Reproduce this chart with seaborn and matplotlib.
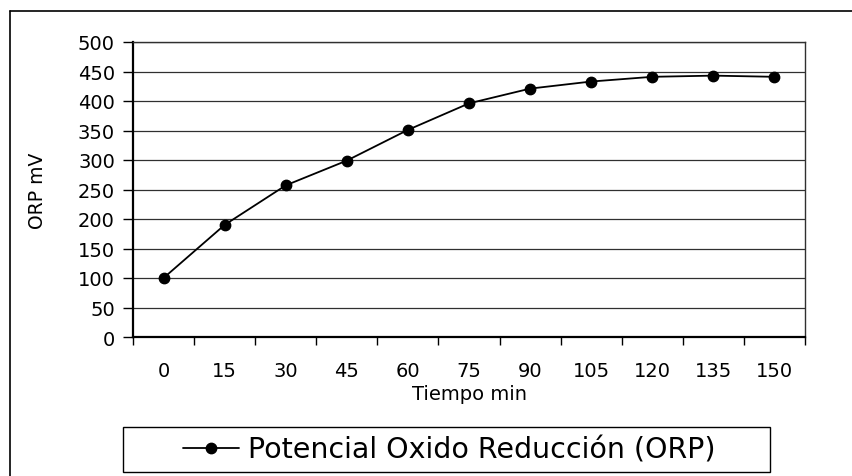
import matplotlib
matplotlib.use("Agg")
import matplotlib.pyplot as plt
from matplotlib.lines import Line2D
from matplotlib.patches import Rectangle
import seaborn as sns
import pandas as pd

tiempo = ["0", "15", "30", "45", "60", "75", "90", "105", "120", "135", "150"]
orp = [100, 190, 257, 299, 351, 396, 421, 433, 441, 443, 441]
serie = "Potencial Oxido Reducción (ORP)"
x_label = "Tiempo min"
y_label = "ORP mV"
y_ticks = [0, 50, 100, 150, 200, 250, 300, 350, 400, 450, 500]

sns.set_theme(style="white")
plt.rcParams["font.family"] = ["DejaVu Sans"]

W, H = 852, 477
fig = plt.figure(figsize=(W / 100, H / 100), dpi=100)
fig.patch.set_facecolor("white")

def fx(px):
    return px / W

def fy(py):
    return 1 - py / H

ax = fig.add_axes([fx(133), fy(338), fx(805) - fx(133), fy(43) - fy(338)])

df = pd.DataFrame({"t": pd.Categorical(tiempo, categories=tiempo), "orp": orp})
sns.pointplot(data=df, x="t", y="orp", order=tiempo, color="black",
              errorbar=None, markers="o", markersize=7.5, linewidth=1.3,
              label=serie, ax=ax)
handles, labels = ax.get_legend_handles_labels()
if ax.get_legend() is not None:
    ax.get_legend().remove()

ax.set_xlim(-0.5, len(tiempo) - 0.5)
ax.set_ylim(0, 500)
ax.set_yticks(y_ticks)
ax.set_yticklabels([str(v) for v in y_ticks], fontsize=14, color="black")
for v in y_ticks:
    ax.axhline(v, color="#303030", lw=0.9, zorder=0)

ax.set_xticks(range(len(tiempo)))
ax.set_xticklabels(tiempo, fontsize=14, color="black")
ax.set_xticks([i - 0.5 for i in range(len(tiempo) + 1)], minor=True)
ax.tick_params(axis="x", which="major", length=0, pad=17)
ax.tick_params(axis="x", which="minor", length=6, width=1, color="black", direction="out", bottom=True)
ax.tick_params(axis="y", which="major", length=7, width=1, color="black", direction="out", left=True, pad=6)

ax.set_xlabel(x_label, fontsize=14, color="black", labelpad=3)
ax.set_ylabel(y_label, fontsize=13.5, color="black", labelpad=22)

for s in ["left", "bottom"]:
    ax.spines[s].set_color("black")
    ax.spines[s].set_linewidth(1.6)
for s in ["top", "right"]:
    ax.spines[s].set_color("#303030")
    ax.spines[s].set_linewidth(1.0)

# outer chart-area frame (partially visible)
fig.add_artist(Line2D([fx(10), fx(10)], [fy(12), 0], transform=fig.transFigure, color="black", lw=1.2))
fig.add_artist(Line2D([fx(10), 1], [fy(12), fy(12)], transform=fig.transFigure, color="black", lw=1.2))

# legend box
fig.add_artist(Rectangle((fx(123), fy(473)), fx(770) - fx(123), fy(428) - fy(473),
                         transform=fig.transFigure, fill=False, edgecolor="black", lw=1.0))
if not handles:
    handles = [Line2D([], [], color="black", marker="o", markersize=7.5, lw=1.3)]
    labels = [serie]
fig.legend(handles[:1], labels[:1], loc="center", bbox_to_anchor=(fx(449), fy(451)),
           frameon=False, fontsize=20.5, handlelength=2.0, handletextpad=0.3,
           labelcolor="black")

fig.savefig("out.png", dpi=100)
